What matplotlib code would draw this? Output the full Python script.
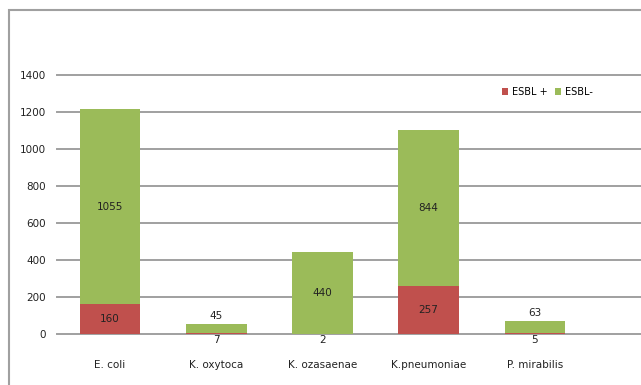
import matplotlib
matplotlib.use("Agg")
import matplotlib.pyplot as plt
from matplotlib.patches import Rectangle
from matplotlib import font_manager

categories = ["E. coli", "K. oxytoca", "K. ozasaenae", "K.pneumoniae", "P. mirabilis"]
esbl_pos = [160, 7, 2, 257, 5]
esbl_neg = [1055, 45, 440, 844, 63]
yticks = [0, 200, 400, 600, 800, 1000, 1200, 1400]

names = {f.name for f in font_manager.fontManager.ttflist}
fam = "Liberation Sans Narrow" if "Liberation Sans Narrow" in names else "DejaVu Sans"
plt.rcParams['font.family'] = [fam, 'DejaVu Sans']

W, H = 641, 385
fig = plt.figure(figsize=(W/100, H/100), dpi=100)
fig.patch.set_facecolor("white")
# outer frame
fig.patches.append(Rectangle((9/W, -0.1), 1.2, (H - 10)/H + 0.1, transform=fig.transFigure,
                             fill=False, edgecolor="#a0a0a0", linewidth=1.5))

ax = fig.add_axes([57/W, 51/H, 1 - 57/W, (334 - 75)/H])
red = "#C0504D"
green = "#9BBB59"
x = list(range(len(categories)))
ax.bar(x, esbl_pos, width=0.57, color=red, zorder=3, label="ESBL +")
ax.bar(x, esbl_neg, width=0.57, bottom=esbl_pos, color=green, zorder=3, label="ESBL-")

ax.set_xlim(-0.5, 5.0)
ax.set_ylim(0, 1400)
ax.set_yticks(yticks)
ax.set_yticklabels([str(v) for v in yticks], fontsize=7.5, color="#222222")
ax.set_xticks(x)
ax.set_xticklabels(categories, fontsize=7.5, color="#222222")
ax.tick_params(axis='both', length=0, pad=8)
ax.tick_params(axis='x', pad=19)
for s in ax.spines.values():
    s.set_visible(False)
for v in yticks:
    ax.axhline(v, color="#a0a0a0", linewidth=1.4, zorder=1, clip_on=False)

for i in x:
    p, n = esbl_pos[i], esbl_neg[i]
    if p > 60:
        ax.text(i, p / 2, str(p), ha='center', va='center', fontsize=7.5, color="#222222", zorder=4)
    else:
        ax.annotate(str(p), (i, 0), xytext=(0, -4.5), textcoords='offset points',
                    ha='center', va='center', fontsize=7.5, color="#222222", zorder=4)
    if n > 100:
        ax.text(i, p + n / 2, str(n), ha='center', va='center', fontsize=7.5, color="#222222", zorder=4)
    else:
        ax.annotate(str(n), (i, p + n), xytext=(0, 6), textcoords='offset points',
                    ha='center', va='center', fontsize=7.5, color="#222222", zorder=4)

leg = ax.legend(loc='upper left', bbox_to_anchor=((498 - 57) / (W - 57), (334 - 83) / (334 - 75)),
                ncol=2, frameon=False, fontsize=7, handlelength=0.6, handleheight=0.6,
                handletextpad=0.4, columnspacing=0.8, borderaxespad=0)

fig.savefig("out.png", dpi=100, facecolor="white")
